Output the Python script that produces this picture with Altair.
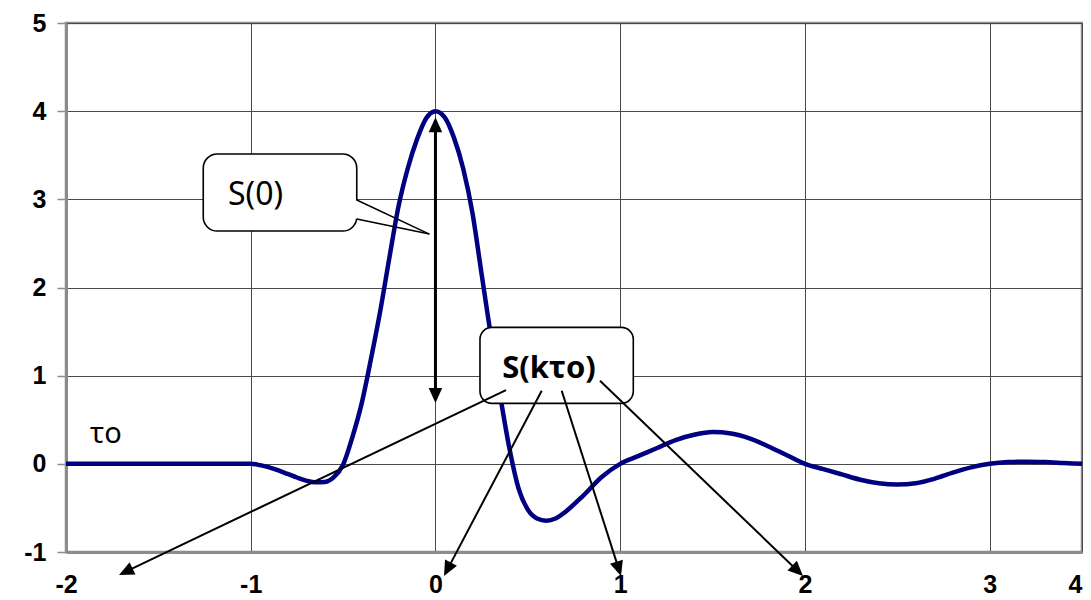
import math
import altair as alt
import pandas as pd

# ---------------- data ----------------
tau = [-2.0, -1.5, -1.0, -0.95, -0.9, -0.85, -0.8, -0.75, -0.7, -0.65, -0.6, -0.55,
       -0.5, -0.45, -0.4, -0.35, -0.3, -0.25, -0.2, -0.15, -0.1, -0.05, 0.0,
       0.05, 0.1, 0.15, 0.2, 0.25, 0.3, 0.35, 0.4, 0.45, 0.5, 0.55, 0.6, 0.65,
       0.7, 0.8, 0.9, 1.0, 1.1, 1.2, 1.3, 1.4, 1.5, 1.6, 1.7, 1.8, 1.9, 2.0,
       2.1, 2.2, 2.3, 2.4, 2.5, 2.6, 2.7, 2.8, 2.9, 3.0, 3.1, 3.2, 3.3, 3.4, 3.5]
S_vals = [0.0, 0.0, 0.0, -0.015, -0.04, -0.075, -0.115, -0.155, -0.19, -0.21, -0.205, -0.15,
          -0.01, 0.3, 0.68, 1.18, 1.72, 2.33, 2.92, 3.35, 3.68, 3.92, 4.0,
          3.93, 3.7, 3.35, 2.85, 2.15, 1.45, 0.78, 0.18, -0.28, -0.52, -0.62, -0.645, -0.62,
          -0.55, -0.36, -0.15, 0.0, 0.09, 0.18, 0.27, 0.33, 0.36, 0.345, 0.29, 0.2, 0.1, 0.0,
          -0.06, -0.12, -0.18, -0.22, -0.235, -0.22, -0.17, -0.1, -0.04, 0.0, 0.02, 0.025, 0.02, 0.01, 0.0]

x_ticks = [-2, -1, 0, 1, 2, 3, 3.5]
y_ticks = [-1, 0, 1, 2, 3, 4, 5]

# annotation geometry (data units)
s0_box = [-1.257, -0.426, 3.514, 2.640]          # x1, x2, y1, y2
s0_tail_base = [2.992, 2.776]                     # y of the tail base on box edge
s0_tail_tip = [-0.033, 2.606]
s0_text_pos = [-1.123, 2.935]
sk_box = [0.241, 1.071, 1.548, 0.686]
sk_text_pos = [0.6146, 0.973]
tau_text_pos = [-1.870, 0.236]
arrow_x = 0.0
arrow_y = [3.93, 0.69]
line_x1 = [0.3818, 0.5751, 0.6834, 0.8907]
line_y1 = [0.837, 0.829, 0.829, 0.943]
line_x2 = [-1.7131, 0.0462, 1.0044, 1.9896]
line_y2 = [-1.260, -1.272, -1.272, -1.272]

# ---------------- layout ----------------
W, H = 1016, 529
XD = [-2, 3.5]
YD = [-1, 5]
sx = W / (XD[1] - XD[0])
sy = H / (YD[1] - YD[0])
HEAD = 7.5  # half length of arrowhead in px
ARROW_PATH = "M0,-1L0.9,1L-0.9,1Z"

xscale = alt.Scale(domain=XD, nice=False, zero=False)
yscale = alt.Scale(domain=YD, nice=False, zero=False)
xaxis = alt.Axis(values=x_ticks, title=None, grid=True, ticks=False, tickSize=0,
                 labelPadding=20, labelFont="Liberation Sans", labelFontWeight="bold",
                 labelFontSize=25, labelColor="black", labelOverlap=False,
                 labelExpr="datum.value == 3.5 ? '4' : '' + datum.value",
                 labelAlign={"condition": {"test": "datum.value == 3.5", "value": "right"}, "value": "center"},
                 domainColor="#8c8c8c", domainWidth=3, gridColor="#4a4a4a", gridWidth=1)
yaxis = alt.Axis(values=y_ticks, title=None, grid=True, ticks=True, tickSize=9,
                 tickColor="#8c8c8c", tickWidth=1.5, labelPadding=11,
                 labelFont="Liberation Sans", labelFontWeight="bold", labelFontSize=25,
                 labelColor="black", labelExpr="'' + datum.value", labelOverlap=False,
                 domainColor="#8c8c8c", domainWidth=3, gridColor="#4a4a4a", gridWidth=1)


def X(f):
    return alt.X(f, type="quantitative", scale=xscale, axis=xaxis)


def Y(f):
    return alt.Y(f, type="quantitative", scale=yscale, axis=yaxis)


def head(xs, ys, xe, ye):
    dxp = (xe - xs) * sx
    dyp = -(ye - ys) * sy
    L = math.hypot(dxp, dyp)
    ux, uy = dxp / L, dyp / L
    ang = math.degrees(math.atan2(ux, -uy)) % 360
    cx = xe - HEAD * ux / sx
    cy = ye + HEAD * uy / sy
    return cx, cy, ang


curve_df = pd.DataFrame({"x": tau, "y": S_vals})
curve = alt.Chart(curve_df).mark_line(color="#000080", strokeWidth=4.5,
                                      interpolate="monotone").encode(x=X("x"), y=Y("y"))

# double-headed vertical arrow
top_c = head(arrow_x, arrow_y[1], arrow_x, arrow_y[0])
bot_c = head(arrow_x, arrow_y[0], arrow_x, arrow_y[1])
darrow_df = pd.DataFrame({"x": [arrow_x], "x2": [arrow_x], "y": [top_c[1]], "y2": [bot_c[1]]})
darrow = alt.Chart(darrow_df).mark_rule(color="black", strokeWidth=3).encode(
    x=X("x"), x2="x2", y=Y("y"), y2="y2")

# S(0) callout
s0_df = pd.DataFrame({"x": [s0_box[0]], "x2": [s0_box[1]], "y": [s0_box[2]], "y2": [s0_box[3]]})
s0_rect = alt.Chart(s0_df).mark_rect(fill="white", stroke="black", strokeWidth=1.6,
                                     cornerRadius=14).encode(x=X("x"), x2="x2", y=Y("y"), y2="y2")
gap_df = pd.DataFrame({"x": [s0_box[1]], "x2": [s0_box[1]], "y": [s0_tail_base[0] - 0.005],
                       "y2": [s0_tail_base[1] + 0.005]})
s0_gap = alt.Chart(gap_df).mark_rule(color="white", strokeWidth=3).encode(
    x=X("x"), x2="x2", y=Y("y"), y2="y2")
tail_df = pd.DataFrame({"x": [s0_box[1], s0_box[1]], "x2": [s0_tail_tip[0]] * 2,
                        "y": s0_tail_base, "y2": [s0_tail_tip[1]] * 2})
s0_tail = alt.Chart(tail_df).mark_rule(color="black", strokeWidth=1.5).encode(
    x=X("x"), x2="x2", y=Y("y"), y2="y2")
s0_text = alt.Chart(pd.DataFrame({"x": [s0_text_pos[0]], "y": [s0_text_pos[1]], "t": ["S(0)"]})).mark_text(
    font="Noto Sans", fontSize=32, align="left", baseline="alphabetic", color="black").encode(
    x=X("x"), y=Y("y"), text="t:N")

# S(k tau o) callout
sk_df = pd.DataFrame({"x": [sk_box[0]], "x2": [sk_box[1]], "y": [sk_box[2]], "y2": [sk_box[3]]})
sk_rect = alt.Chart(sk_df).mark_rect(fill="white", stroke="black", strokeWidth=1.6,
                                     cornerRadius=12).encode(x=X("x"), x2="x2", y=Y("y"), y2="y2")
sk_text = alt.Chart(pd.DataFrame({"x": [sk_text_pos[0]], "y": [sk_text_pos[1]], "t": ["S(kτo)"]})).mark_text(
    font="Noto Sans", fontSize=31, fontWeight="bold", align="center", baseline="alphabetic",
    color="black").encode(x=X("x"), y=Y("y"), text="t:N")

# arrows from S(k tau o)
heads = [head(a, b, c, d) for a, b, c, d in zip(line_x1, line_y1, line_x2, line_y2)]
lines_df = pd.DataFrame({"x": line_x1, "y": line_y1,
                         "x2": [h[0] for h in heads], "y2": [h[1] for h in heads]})
lines = alt.Chart(lines_df).mark_rule(color="black", strokeWidth=2).encode(
    x=X("x"), x2="x2", y=Y("y"), y2="y2")

all_heads = heads + [top_c, bot_c]
heads_df = pd.DataFrame({"x": [h[0] for h in all_heads], "y": [h[1] for h in all_heads],
                         "a": [h[2] for h in all_heads]})
arrowheads = alt.Chart(heads_df).mark_point(shape=ARROW_PATH, filled=True, size=225,
                                            color="black", opacity=1, strokeWidth=0).encode(
    x=X("x"), y=Y("y"), angle=alt.Angle("a:Q", scale=None))

tau_text = alt.Chart(pd.DataFrame({"x": [tau_text_pos[0]], "y": [tau_text_pos[1]], "t": ["τo"]})).mark_text(
    font="Noto Sans", fontSize=29, align="left", baseline="alphabetic", color="black").encode(
    x=X("x"), y=Y("y"), text="t:N")

chart = alt.layer(
    curve, darrow, s0_rect, s0_gap, s0_tail, sk_rect, lines, arrowheads, s0_text, sk_text, tau_text
).properties(
    width=W, height=H,
    autosize=alt.AutoSizeParams(type="none"),
    padding={"left": 58, "top": 15, "right": 1, "bottom": 48},
    background="white",
).configure_view(stroke="#8c8c8c", strokeWidth=2.5)

chart.save("out.html", embed_options={"renderer": "svg", "actions": False})
